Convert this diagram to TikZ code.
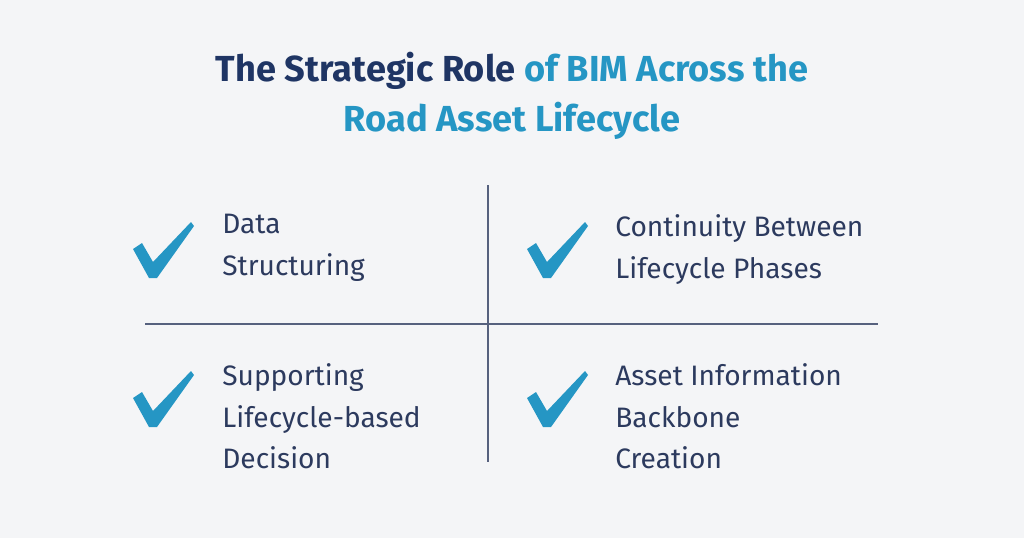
\documentclass[tikz,border=0pt]{standalone}
\usepackage{fontspec}
\setmainfont{Fira Sans}
\usetikzlibrary{positioning}
\definecolor{navy}{HTML}{1F3564}
\definecolor{teal}{HTML}{2596C4}
\definecolor{ink}{HTML}{2C3A5E}
\definecolor{bg}{HTML}{F4F5F7}
\begin{document}
\begin{tikzpicture}[x=0.02cm,y=-0.02cm,
    item/.style={anchor=north west, align=left, text=ink, font=\fontsize{16}{23.8}\selectfont, inner sep=0pt},
    divider/.style={draw=ink!80, line width=0.6pt}]
  \fill[bg] (0,0) rectangle (1024,538);
  \useasboundingbox (0,0) rectangle (1024,538);
  % title
  \node[font=\fontsize{20.6}{28.3}\selectfont\bfseries, align=center] (title) at (512,96)
    {\textcolor{navy}{The Strategic Role} \textcolor{teal}{of BIM Across the}\\\textcolor{teal}{Road Asset Lifecycle}};
  % dividers
  \coordinate (vtop) at (488,185);
  \coordinate (vbot) at (488,462);
  \coordinate (hl) at (145,324);
  \coordinate (hr) at (878,324);
  \draw[divider] (vtop) -- (vbot);
  \draw[divider] (hl) -- (hr);
  % checks
  \foreach \cx/\cy in {133/222, 527/222, 133/371, 527/371}
    \fill[teal, shift={(\cx,\cy)}] (0,27) -- (9,21) -- (20,40) -- (58,0) -- (61,4) -- (24,56) -- (16,56) -- cycle;
  % texts
  \node[item] (data) at (222,214) {Data\\Structuring};
  \node[item] (cont) at (615,214) {Continuity Between\\Lifecycle Phases};
  \node[item] (supp) at (222,363) {Supporting\\Lifecycle-based\\Decision};
  \node[item] (asset) at (615,363) {Asset Information\\Backbone\\Creation};
\end{tikzpicture}
\end{document}
